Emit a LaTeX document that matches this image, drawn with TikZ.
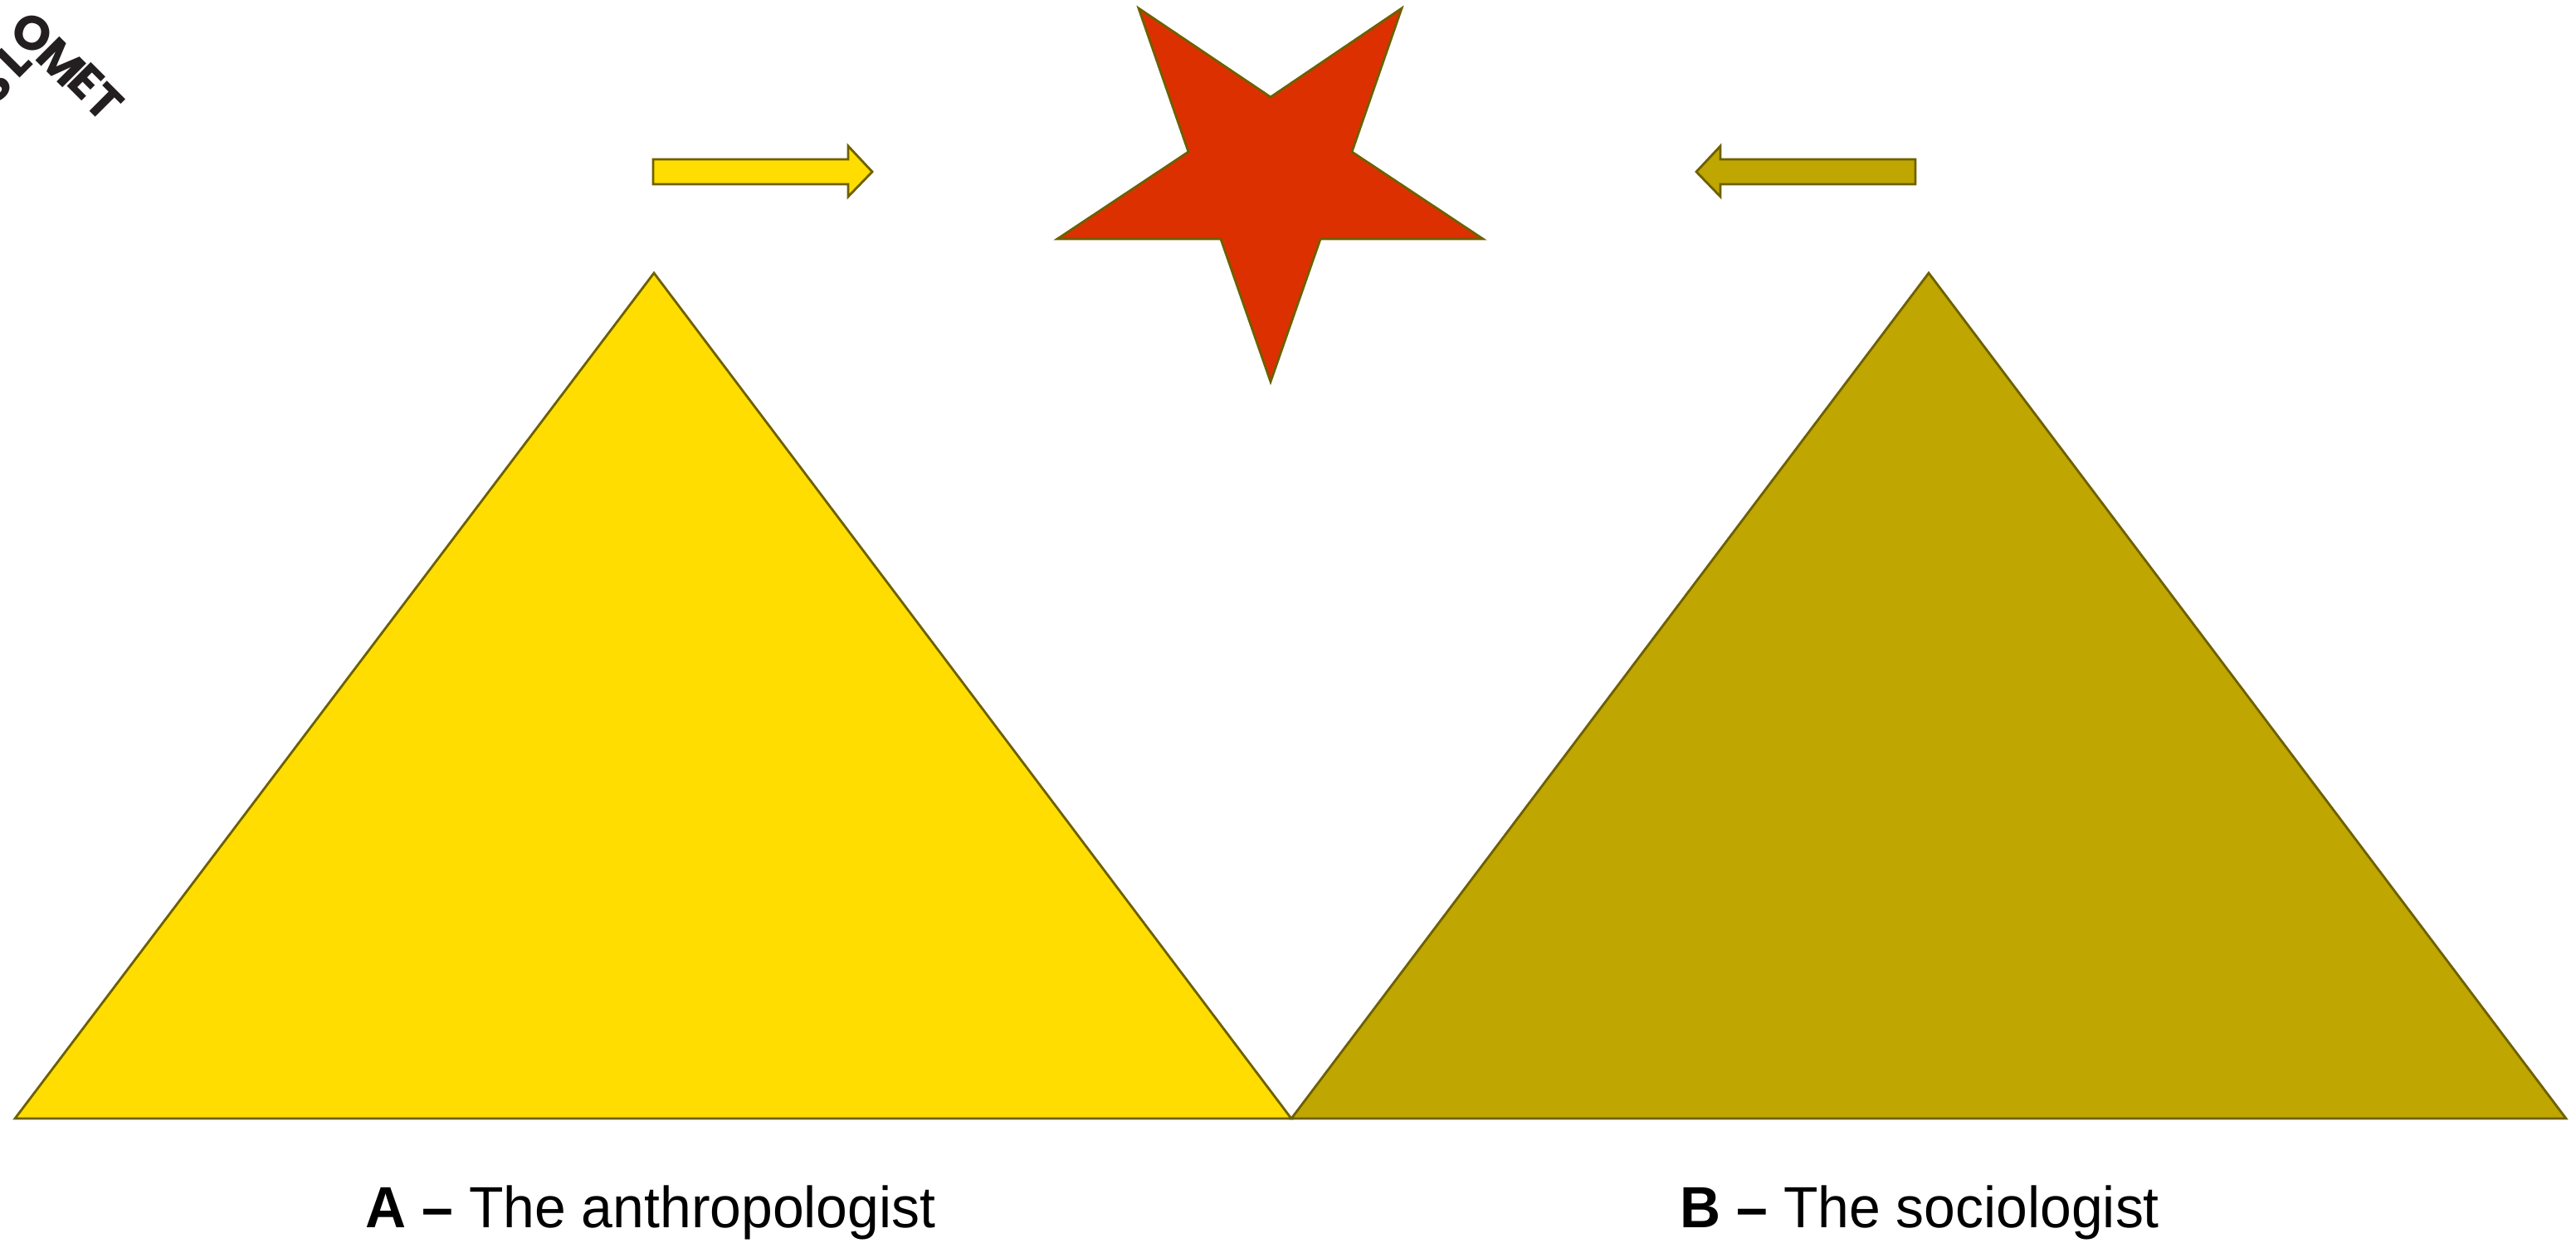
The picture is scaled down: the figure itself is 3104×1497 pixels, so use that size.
\documentclass[tikz,border=0pt]{standalone}
\usepackage{fontspec}
\setmainfont{Liberation Sans}
\newfontfamily\logofont{Poppins}
\usepackage{graphicx}
\definecolor{yellowA}{RGB}{255,221,0}
\definecolor{oliveB}{RGB}{191,166,0}
\definecolor{starred}{RGB}{221,48,0}
\definecolor{edgeol}{RGB}{110,96,0}
\definecolor{logoink}{RGB}{35,31,32}
\tikzset{
  shapeedge/.style={draw=edgeol, line width=0.8pt, line join=miter},
  logoletter/.style={inner sep=0pt, text=logoink, font=\logofont\fontsize{16.5}{18}\selectfont\bfseries},
  caption/.style={inner sep=0pt, anchor=base west}
}
\begin{document}
\begin{tikzpicture}[x=0.01cm, y=-0.01cm]
\useasboundingbox (0,0) rectangle (3104,1497);
% triangles
\coordinate (Lapex) at (788,329);
\coordinate (Lleft) at (18,1348);
\coordinate (Mid) at (1556,1348);
\coordinate (Rapex) at (2324,329);
\coordinate (Rright) at (3092,1348);
\fill[yellowA] (Lleft) -- (Lapex) -- (Mid) -- cycle;
\draw[shapeedge] (Lleft) -- (Lapex) -- (Mid) -- cycle;
\fill[oliveB] (Mid) -- (Rapex) -- (Rright) -- cycle;
\draw[shapeedge] (Mid) -- (Rapex) -- (Rright) -- cycle;
% star
\draw[shapeedge, fill=starred] (1372,10) -- (1531,117) -- (1689,10) -- (1629,183) -- (1787,288) -- (1591,288) -- (1531,460) -- (1471,288) -- (1274,288) -- (1432,183) -- cycle;
% arrows
\draw[shapeedge, fill=yellowA] (787,192) -- (1022,192) -- (1022,176) -- (1051,207) -- (1022,237) -- (1022,222) -- (787,222) -- cycle;
\draw[shapeedge, fill=oliveB] (2308,192) -- (2073,192) -- (2073,176) -- (2044,207) -- (2073,237) -- (2073,222) -- (2308,222) -- cycle;
% captions
\node[caption] (capA) at (440,1479) {\scalebox{0.97}[1]{\fontsize{19.9}{24}\selectfont\textbf{A –} The anthropologist}};
\node[caption] (capB) at (2024,1479) {\scalebox{0.97}[1]{\fontsize{19.9}{24}\selectfont\textbf{B –} The sociologist}};
% logo watermark (partly off the page)
\node[logoletter, rotate=45] (lS) at (-8,102) {S};
\node[logoletter, rotate=45] (lL) at (17,72) {L};
\node[logoletter, rotate=-20] (lO) at (39,40) {O};
\node[logoletter, rotate=-45] (lM) at (74,75) {M};
\node[logoletter, rotate=-45] (lE) at (104,98) {E};
\node[logoletter, rotate=-45] (lT) at (126,123) {T};
\end{tikzpicture}
\end{document}
